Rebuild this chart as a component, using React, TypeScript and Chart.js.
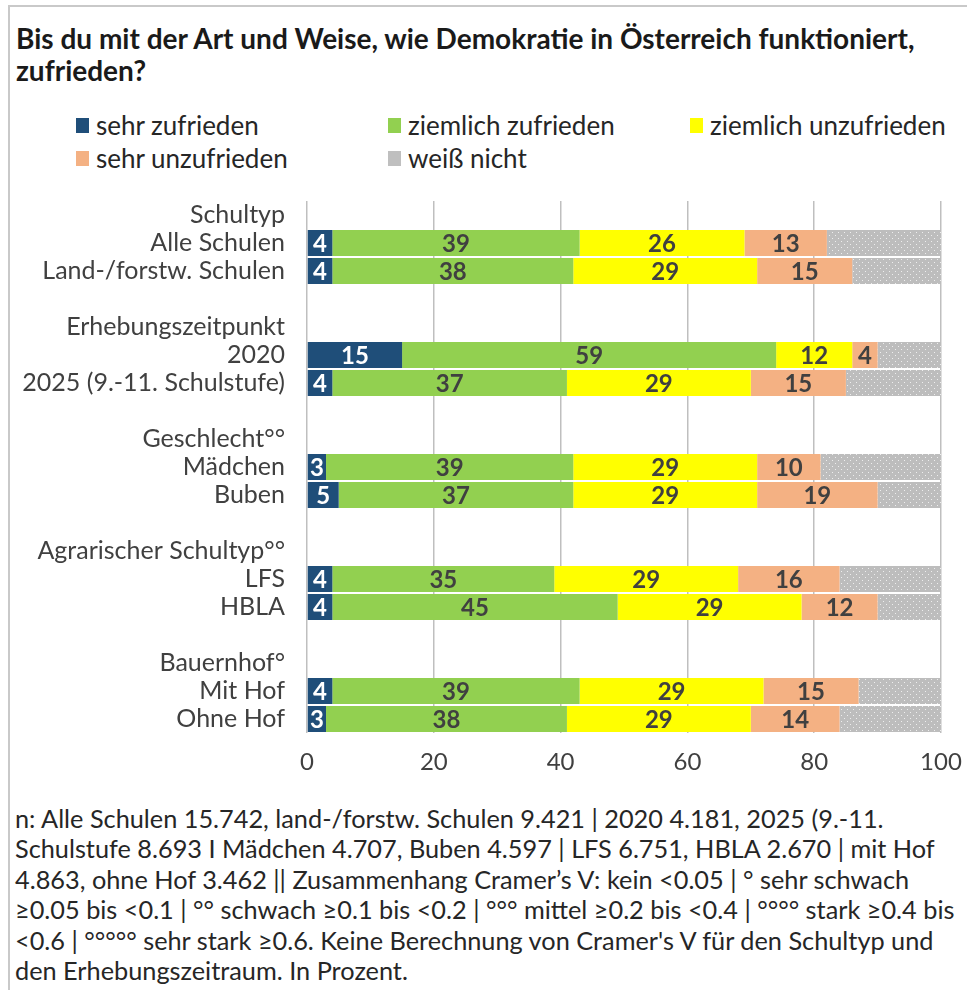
import React, { useEffect, useRef } from "react";
import { Chart, registerables } from "chart.js";

Chart.register(...registerables);

const titleLines = [
  "Bis du mit der Art und Weise, wie Demokratie in Österreich funktioniert,",
  "zufrieden?",
];

const groupTitles = ["Schultyp", "Erhebungszeitpunkt", "Geschlecht°°", "Agrarischer Schultyp°°", "Bauernhof°"];
const groupItems = [
  ["Alle Schulen", "Land-/forstw. Schulen"],
  ["2020", "2025 (9.-11. Schulstufe)"],
  ["Mädchen", "Buben"],
  ["LFS", "HBLA"],
  ["Mit Hof", "Ohne Hof"],
];

const seriesNames = ["sehr zufrieden", "ziemlich zufrieden", "ziemlich unzufrieden", "sehr unzufrieden", "weiß nicht"];
const seriesColors = ["#1f4e79", "#92d050", "#ffff00", "#f4b183", "#bfbfbf"];

const sehrZufrieden = [4, 4, 15, 4, 3, 5, 4, 4, 4, 3];
const ziemlichZufrieden = [39, 38, 59, 37, 39, 37, 35, 45, 39, 38];
const ziemlichUnzufrieden = [26, 29, 12, 29, 29, 29, 29, 29, 29, 29];
const sehrUnzufrieden = [13, 15, 4, 15, 10, 19, 16, 12, 15, 14];
const weissNicht = [18, 14, 10, 15, 19, 10, 16, 10, 13, 16];

const xTicks = [0, 20, 40, 60, 80, 100];

const footnoteLines = [
  "n: Alle Schulen 15.742, land-/forstw. Schulen 9.421 | 2020 4.181, 2025 (9.-11.",
  "Schulstufe 8.693 I Mädchen 4.707, Buben 4.597 | LFS 6.751, HBLA 2.670 | mit Hof",
  "4.863, ohne Hof 3.462 || Zusammenhang Cramer’s V: kein <0.05 | ° sehr schwach",
  "≥0.05 bis <0.1 | °° schwach ≥0.1 bis <0.2 | °°° mittel ≥0.2 bis <0.4 | °°°° stark ≥0.4 bis",
  "<0.6 | °°°°° sehr stark ≥0.6. Keine Berechnung von Cramer's V für den Schultyp und",
  "den Erhebungszeitraum. In Prozent.",
];

const FONT = "Lato, 'Open Sans', sans-serif";

function buildRows() {
  const labels: string[] = [];
  const idx: (number | null)[] = [];
  let k = 0;
  groupTitles.forEach((g, gi) => {
    if (gi > 0) {
      labels.push("");
      idx.push(null);
    }
    labels.push(g);
    idx.push(null);
    groupItems[gi].forEach((it) => {
      labels.push(it);
      idx.push(k++);
    });
  });
  return { labels, idx };
}

export default function App() {
  const ref = useRef<HTMLCanvasElement | null>(null);

  useEffect(() => {
    const canvas = ref.current;
    if (!canvas) return;
    const { labels, idx } = buildRows();
    const all = [sehrZufrieden, ziemlichZufrieden, ziemlichUnzufrieden, sehrUnzufrieden, weissNicht];

    const pc = document.createElement("canvas");
    pc.width = 6;
    pc.height = 6;
    const pctx = pc.getContext("2d")!;
    pctx.fillStyle = "#bdbdbd";
    pctx.fillRect(0, 0, 6, 6);
    pctx.fillStyle = "#eeeeee";
    pctx.fillRect(1, 1, 1, 1);
    pctx.fillRect(4, 4, 1, 1);
    const pattern = canvas.getContext("2d")!.createPattern(pc, "repeat");

    const datasets = all.map((arr, si) => ({
      label: seriesNames[si],
      data: idx.map((i) => (i === null ? null : arr[i])),
      backgroundColor: si === 4 && pattern ? (pattern as any) : seriesColors[si],
      borderWidth: 0,
      barPercentage: 1,
      categoryPercentage: 0.93,
    }));

    const labelPlugin = {
      id: "segLabels",
      afterDatasetsDraw(chart: any) {
        const ctx = chart.ctx;
        ctx.save();
        ctx.font = `bold 24px ${FONT}`;
        ctx.textAlign = "center";
        ctx.textBaseline = "middle";
        chart.data.datasets.forEach((ds: any, di: number) => {
          if (di > 3) return;
          const meta = chart.getDatasetMeta(di);
          meta.data.forEach((bar: any, i: number) => {
            const v = ds.data[i];
            if (v === null || v === undefined) return;
            const cx = (bar.x + bar.base) / 2;
            ctx.fillStyle = di === 0 ? "#ffffff" : "#404040";
            ctx.fillText(String(v), cx, bar.y + 1);
          });
        });
        ctx.restore();
      },
    };

    const chart = new Chart(canvas, {
      type: "bar",
      data: { labels, datasets: datasets as any },
      options: {
        indexAxis: "y",
        responsive: false,
        animation: false,
        layout: { padding: { top: 201, right: 26, left: 0, bottom: 0 } },
        plugins: { legend: { display: false }, tooltip: { enabled: false } },
        scales: {
          x: {
            stacked: true,
            min: xTicks[0],
            max: xTicks[xTicks.length - 1],
            afterBuildTicks: (s: any) => {
              s.ticks = xTicks.map((v) => ({ value: v }));
            },
            ticks: { font: { family: FONT, size: 24 }, color: "#404040", padding: 15 },
            grid: { color: "#bfbfbf", lineWidth: 1.5, drawTicks: false },
            border: { display: false },
            afterFit: (s: any) => {
              s.height = 57;
              s.paddingRight = 0;
              s.paddingLeft = 0;
            },
          },
          y: {
            stacked: true,
            ticks: { font: { family: FONT, size: 25 }, color: "#404040", padding: 22, autoSkip: false },
            grid: { display: false, drawTicks: false },
            border: { display: false },
            afterFit: (s: any) => {
              s.width = 307;
            },
          },
        },
      } as any,
      plugins: [labelPlugin],
    });
    return () => chart.destroy();
  }, []);

  const legendPos = [
    { x: 76, y: 125 },
    { x: 388, y: 125 },
    { x: 690, y: 125 },
    { x: 76, y: 158 },
    { x: 388, y: 158 },
  ];

  return (
    <div
      style={{
        position: "fixed",
        left: 0,
        top: 0,
        width: 967,
        height: 990,
        overflow: "hidden",
        background: "#ffffff",
        fontFamily: FONT,
      }}
    >
      <div
        style={{
          position: "absolute",
          left: 8,
          top: 5,
          width: 1000,
          height: 1000,
          border: "2px solid #c9c9c9",
        }}
      />
      {titleLines.map((t, i) => (
        <div
          key={i}
          style={{
            position: "absolute",
            left: 16,
            top: 22 + i * 32,
            height: 32,
            lineHeight: "32px",
            fontSize: 28,
            fontWeight: 700,
            color: "#1a1a1a",
            whiteSpace: "nowrap",
          }}
        >
          {t}
        </div>
      ))}
      {seriesNames.map((n, i) => (
        <div
          key={n}
          style={{
            position: "absolute",
            left: legendPos[i].x,
            top: legendPos[i].y - 15,
            height: 30,
            display: "flex",
            alignItems: "center",
            whiteSpace: "nowrap",
            fontSize: 26,
            color: "#262626",
          }}
        >
          <span
            style={{
              display: "inline-block",
              width: 13,
              height: 15,
              background: seriesColors[i],
              marginRight: 7,
            }}
          />
          {n}
        </div>
      ))}
      <canvas
        ref={ref}
        width={967}
        height={790}
        style={{ position: "absolute", left: 0, top: 0, width: 967, height: 790 }}
      />
      <div style={{ position: "absolute", left: 15, top: 803 }}>
        {footnoteLines.map((l, i) => (
          <div
            key={i}
            style={{ height: 30.4, lineHeight: "30.4px", fontSize: 25.3, color: "#262626", whiteSpace: "nowrap" }}
          >
            {l}
          </div>
        ))}
      </div>
    </div>
  );
}
